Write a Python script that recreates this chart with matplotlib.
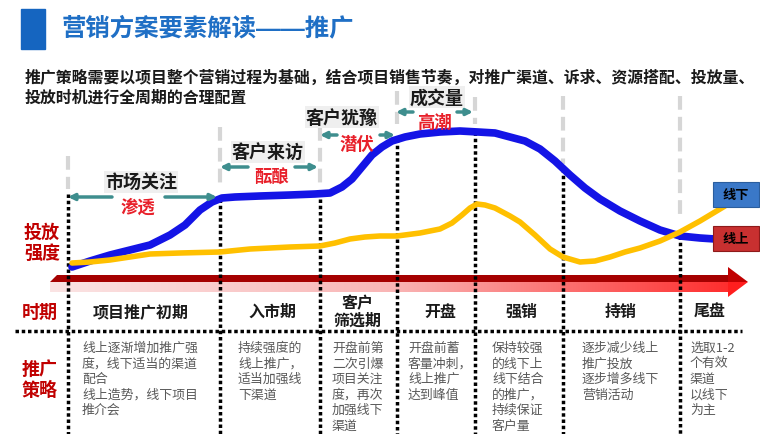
import numpy as np
import matplotlib
matplotlib.use("Agg")
import matplotlib.pyplot as plt
from matplotlib.patches import Rectangle, Polygon
from matplotlib.colors import LinearSegmentedColormap

plt.rcParams['font.family'] = ['Noto Sans CJK SC', 'DejaVu Sans']

# ---- data (picture pixel units) ----
title = "营销方案要素解读——推广"
intro = ["推广策略需要以项目整个营销过程为基础，结合项目销售节奏，对推广渠道、诉求、资源搭配、投放量、",
         "投放时机进行全周期的合理配置"]

boundaries = [68, 220, 320, 397, 475, 563, 680]
line_top = [195, 200, 200, 140, 133, 170, 237]
gray_top = [157, 128, 128, 92, 98, 97, 97]
gray_bottom = [190, 190, 190, 125, 125, 165, 222]

periods = ["项目推广初期", "入市期", "客户\n筛选期", "开盘", "强销", "持销", "尾盘"]
period_x = [141, 272, 358, 440, 521, 621, 710]

strategies = [
    "线上逐渐增加推广强\n度，线下适当的渠道\n配合\n线上造势，线下项目\n推介会",
    "持续强度的\n线上推广，\n适当加强线\n下渠道",
    "开盘前第\n二次引爆\n项目关注\n度，再次\n加强线下\n渠道",
    "开盘前蓄\n客量冲刺，\n线上推广\n达到峰值",
    "保持较强\n的线下上\n线下结合\n的推广，\n持续保证\n客户量",
    "逐步减少线上\n推广投放\n逐步增多线下\n营销活动",
    "选取1-2\n个有效\n渠道\n以线下\n为主",
]
strategy_x = [82, 238, 332, 408, 492, 582, 690]

stage_titles = ["市场关注", "客户来访", "客户犹豫", "成交量"]
stage_moods = ["渗透", "酝酿", "潜伏", "高潮"]
stage_title_xy = [(141, 183), (268, 153), (342, 118), (437, 98)]
stage_mood_xy = [(138, 208), (272, 178), (357, 145), (434, 123)]
stage_arrows = [((112, 68), (165, 217), 198), ((248, 220), (295, 318), 168),
                ((337, 320), (380, 395), 136), ((413, 396), (457, 473), 113)]

# offline (blue) and online (yellow) intensity curves
blue_x = [72, 90, 110, 130, 150, 170, 185, 200, 212, 222, 235, 260, 290, 315, 330, 342,
          352, 362, 372, 382, 392, 405, 420, 440, 460, 478, 495, 510, 525, 540, 555, 570,
          585, 600, 620, 640, 660, 680, 700, 715]
blue_y = [268, 262, 256, 251, 246, 236, 226, 211, 203, 199, 198, 197, 196, 195, 194, 188,
          180, 168, 156, 148, 142, 138, 135, 133, 132, 133, 134, 138, 142, 150, 162, 176,
          189, 200, 212, 222, 231, 237, 239, 240]
yellow_x = [72, 90, 110, 130, 150, 180, 220, 250, 290, 320, 335, 350, 365, 380, 397, 420,
            440, 452, 462, 470, 477, 485, 495, 510, 520, 535, 550, 563, 580, 595, 610, 625,
            640, 660, 680, 700, 715, 725]
yellow_y = [264, 263, 261, 258, 255, 254, 253, 250, 248, 247, 244, 240, 238, 237, 237, 234,
            230, 224, 216, 209, 205, 206, 209, 217, 223, 236, 250, 258, 263, 262, 258, 253,
            249, 242, 233, 222, 213, 207]

W, H = 760, 435
fig = plt.figure(figsize=(7.6, 4.35), dpi=100)
ax = fig.add_axes([0, 0, 1, 1])
ax.set_xlim(0, W)
ax.set_ylim(H, 0)
ax.axis('off')

# title block (Liberation first so the long dash is one continuous rule)
ax.add_patch(Rectangle((21, 10), 24, 40, color='#1565C0'))
ax.text(62, 28, title, fontsize=17.6, fontweight='bold', color='#1F6FC5', va='center',
        family=['Liberation Sans', 'Noto Sans CJK SC'])
ax.text(25, 78, intro[0], fontsize=11.45, fontweight='bold', color='#1a1a1a', va='center')
ax.text(25, 98, intro[1], fontsize=11.45, fontweight='bold', color='#1a1a1a', va='center')

# gray dashed guides and black dotted dividers
for x, t, gt, gb in zip(boundaries, line_top, gray_top, gray_bottom):
    ax.plot([x, x], [gt, gb], color='#D6D6D6', lw=3, linestyle=(0, (3.3, 1.7)), zorder=1)
    ax.plot([x, x], [t, H], color='black', lw=2.5, linestyle=(0, (1, 0.8)), zorder=4)
ax.plot([15, 742], [332, 332], color='black', lw=2.5, linestyle=(0, (1, 0.8)), zorder=4)

# big red time arrow
cmap = LinearSegmentedColormap.from_list('arr', ['#FBE4E4', '#F9B5B5', '#FF2A2A'])
grad = np.linspace(0, 1, 256).reshape(1, -1)
body = Polygon([(50, 283), (733, 283), (733, 293), (50, 293)], closed=True, fc='none', ec='none')
ax.add_patch(body)
im = ax.imshow(grad, cmap=cmap, aspect='auto', extent=[50, 740, 293, 283], zorder=2)
im.set_clip_path(body)
ax.add_patch(Polygon([(50, 283), (57, 276), (733, 276), (733, 283)], closed=True,
                     fc='#A50000', ec='none', zorder=2))
ax.add_patch(Polygon([(728, 268), (748, 283), (728, 283)], closed=True, fc='#C00000', ec='none', zorder=2))
ax.add_patch(Polygon([(728, 283), (748, 283), (728, 298)], closed=True, fc='#FF1E1E', ec='none', zorder=2))

# curves
ax.plot(blue_x, blue_y, color='#1414E6', lw=5.5, solid_capstyle='round', solid_joinstyle='round', zorder=5)
ax.plot(yellow_x, yellow_y, color='#FFC000', lw=4, solid_capstyle='round', solid_joinstyle='round', zorder=6)

# legend tags
ax.add_patch(Rectangle((713, 183), 46, 25, fc='#3A78C8', ec='#2B5E9E', lw=0.8, zorder=7))
ax.text(736, 195.5, "线下", fontsize=9.5, fontweight='bold', ha='center', va='center', zorder=8)
ax.add_patch(Rectangle((713, 227), 46, 25, fc='#C83030', ec='#8E1A1A', lw=0.8, zorder=7))
ax.text(736, 239.5, "线上", fontsize=9.5, fontweight='bold', ha='center', va='center', zorder=8)

# stage labels above the curve
for name, (x, y) in zip(stage_titles, stage_title_xy):
    ax.text(x, y, name, fontsize=13, fontweight='bold', color='#1a1a1a', ha='center', va='center',
            bbox=dict(boxstyle='square,pad=0.08', fc='#EFEFEF', ec='none'), zorder=7)
for name, (x, y) in zip(stage_moods, stage_mood_xy):
    ax.text(x, y, name, fontsize=12.5, fontweight='bold', color='#E8202A', ha='center', va='center', zorder=7)
for left, right, y in stage_arrows:
    for tail, tip in (left, right):
        ax.annotate('', xy=(tip, y), xytext=(tail, y),
                    arrowprops=dict(arrowstyle='-|>', color='#3E8E8E', lw=2.5, mutation_scale=9,
                                    shrinkA=0, shrinkB=0), zorder=7)

# row headings
red = '#C00000'
ax.text(42, 243, "投放\n强度", fontsize=13, fontweight='bold', color=red, ha='center', va='center',
        linespacing=1.1)
ax.text(40, 312, "时期", fontsize=13, fontweight='bold', color=red, ha='center', va='center')
ax.text(40, 380, "推广\n策略", fontsize=13, fontweight='bold', color=red, ha='center', va='center',
        linespacing=1.1)

for name, x in zip(periods, period_x):
    ax.text(x, 312, name, fontsize=11.5, fontweight='bold', color='#1a1a1a', ha='center', va='center',
            linespacing=1.05)

for txt, x in zip(strategies, strategy_x):
    ax.text(x, 342, txt, fontsize=9.3, color='#595959', ha='left', va='top', linespacing=1.25)

fig.savefig('out.png', dpi=100)
